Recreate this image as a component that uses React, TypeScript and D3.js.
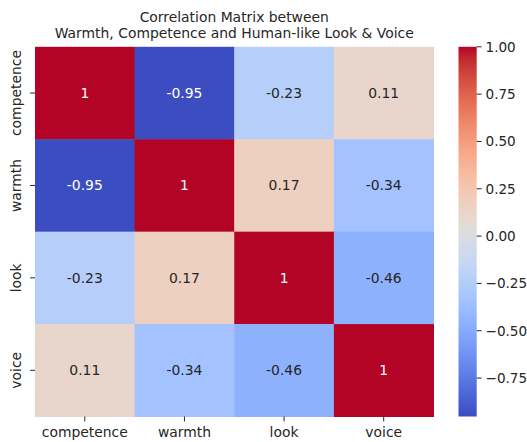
import React from "react";
import * as d3 from "d3";

const variables = ["competence", "warmth", "look", "voice"];
const rowCompetence = [1, -0.95, -0.23, 0.11];
const rowWarmth = [-0.95, 1, 0.17, -0.34];
const rowLook = [-0.23, 0.17, 1, -0.46];
const rowVoice = [0.11, -0.34, -0.46, 1];
const matrix = [rowCompetence, rowWarmth, rowLook, rowVoice];
const colorMin = -0.953;
const colorMax = 1;
const colorbarTicks = [1, 0.75, 0.5, 0.25, 0, -0.25, -0.5, -0.75];
const titleLines = [
  "Correlation Matrix between",
  "Warmth, Competence and Human-like Look & Voice",
];

// matplotlib "coolwarm" (Moreland) control colours
const coolwarm: [number, number, number][] = [
  [59, 76, 192], [68, 90, 204], [77, 104, 215], [87, 117, 225], [98, 130, 234],
  [108, 142, 241], [119, 154, 247], [130, 165, 251], [141, 176, 254], [152, 185, 255],
  [163, 194, 255], [174, 201, 253], [184, 208, 249], [194, 213, 244], [204, 217, 238],
  [213, 219, 230], [221, 221, 221], [229, 216, 209], [236, 211, 197], [241, 204, 185],
  [245, 196, 173], [247, 187, 160], [247, 177, 148], [247, 166, 135], [244, 154, 123],
  [241, 141, 111], [236, 127, 99], [229, 112, 88], [222, 96, 77], [213, 80, 66],
  [203, 62, 56], [192, 40, 47], [180, 4, 38],
];

const W = 527;
const H = 442;
const FONT = "DejaVu Sans";
const FS = 13.9;
const CB_FS = 13.6;
const plot = { left: 35, right: 433.5, top: 46.8, bottom: 416.5 };
const cbar = { left: 458.5, right: 476.7 };

export default function App() {
  const cmapScale = d3
    .scaleLinear<string>()
    .domain(coolwarm.map((_, i) => i / (coolwarm.length - 1)))
    .range(coolwarm.map((c) => d3.rgb(c[0], c[1], c[2]).toString()))
    .interpolate(d3.interpolateRgb)
    .clamp(true);
  const norm = d3.scaleLinear().domain([colorMin, colorMax]).range([0, 1]).clamp(true);
  const color = (v: number) => cmapScale(norm(v));

  const x = d3.scaleBand<string>().domain(variables).range([plot.left, plot.right]).padding(0);
  const y = d3.scaleBand<string>().domain(variables).range([plot.top, plot.bottom]).padding(0);
  const cy = d3.scaleLinear().domain([colorMin, colorMax]).range([plot.bottom, plot.top]);

  const textColor = (v: number) => {
    const c = d3.rgb(color(v));
    const lin = (u: number) => {
      const s = u / 255;
      return s <= 0.03928 ? s / 12.92 : Math.pow((s + 0.055) / 1.055, 2.4);
    };
    const l = 0.2126 * lin(c.r) + 0.7152 * lin(c.g) + 0.0722 * lin(c.b);
    return l > 0.408 ? "#262626" : "#ffffff";
  };

  const fmt = (v: number) => d3.format(".2~f")(v).replace("\u2212", "-");
  const tickFmt = (v: number) => d3.format(".2f")(v).replace("-", "\u2212");

  const gradStops = d3.range(0, 101).map((i) => i / 100);

  return (
    <svg
      width={W}
      height={H}
      style={{ position: "absolute", left: 0, top: 0, background: "#fff" }}
      fontFamily={FONT}
    >
      <defs>
        <linearGradient id="cbgrad" x1="0" y1="1" x2="0" y2="0">
          {gradStops.map((t) => (
            <stop key={t} offset={t} stopColor={cmapScale(t)} />
          ))}
        </linearGradient>
      </defs>
      <rect width={W} height={H} fill="#fff" />
      {titleLines.map((t, i) => (
        <text key={i} x={(plot.left + plot.right) / 2} y={21.5 + i * 16.7} textAnchor="middle" fontSize={FS} fill="#262626">
          {t}
        </text>
      ))}
      {matrix.map((row, ri) =>
        row.map((v, ci) => (
          <rect
            key={`${ri}-${ci}`}
            x={x(variables[ci])!}
            y={y(variables[ri])!}
            width={x.bandwidth() + 0.5}
            height={y.bandwidth() + 0.5}
            fill={color(v)}
          />
        ))
      )}
      {matrix.map((row, ri) =>
        row.map((v, ci) => (
          <text
            key={`t${ri}-${ci}`}
            x={x(variables[ci])! + x.bandwidth() / 2}
            y={y(variables[ri])! + y.bandwidth() / 2}
            textAnchor="middle"
            dominantBaseline="central"
            fontSize={FS}
            fill={textColor(v)}
          >
            {fmt(v)}
          </text>
        ))
      )}
      {variables.map((v) => {
        const cx = x(v)! + x.bandwidth() / 2;
        return (
          <g key={`xt${v}`}>
            <line x1={cx} x2={cx} y1={plot.bottom} y2={plot.bottom + 4.9} stroke="#262626" strokeWidth={1} />
            <text x={cx} y={437.3} textAnchor="middle" fontSize={FS} fill="#262626">
              {v}
            </text>
          </g>
        );
      })}
      {variables.map((v) => {
        const cyy = y(v)! + y.bandwidth() / 2;
        return (
          <g key={`yt${v}`}>
            <line x1={plot.left - 4.9} x2={plot.left} y1={cyy} y2={cyy} stroke="#262626" strokeWidth={1} />
            <text transform={`translate(21.3,${cyy}) rotate(-90)`} textAnchor="middle" fontSize={FS} fill="#262626">
              {v}
            </text>
          </g>
        );
      })}
      <rect
        x={cbar.left}
        y={plot.top}
        width={cbar.right - cbar.left}
        height={plot.bottom - plot.top}
        fill="url(#cbgrad)"
      />
      {colorbarTicks.map((t) => (
        <g key={`cb${t}`}>
          <line x1={cbar.right} x2={cbar.right + 4.9} y1={cy(t)} y2={cy(t)} stroke="#262626" strokeWidth={1} />
          <text x={cbar.right + 8.8} y={cy(t)} dominantBaseline="central" fontSize={CB_FS} fill="#262626">
            {tickFmt(t)}
          </text>
        </g>
      ))}
    </svg>
  );
}
